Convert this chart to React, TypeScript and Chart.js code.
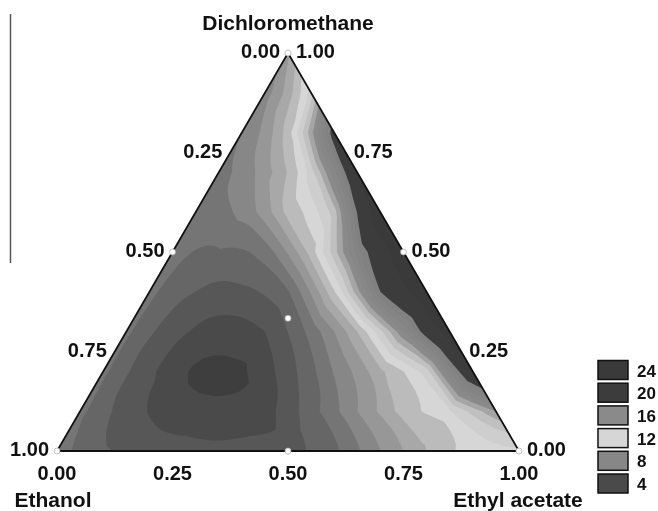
import React, { useEffect, useRef } from "react";
import { Chart, registerables } from "chart.js";
Chart.register(...registerables);

// Response values on a 0.1 lattice.
// Each row: fixed Dichloromethane fraction; entries by Ethyl acetate fraction 0, 0.1, 0.2 ...
const dcm00 = [7.3, 6.1, 5.6, 5.4, 5.4, 5.6, 6.75, 9.0, 11.0, 12.5, 12.8];
const dcm10 = [7.3, 5.5, 4.6, 4.3, 4.6, 6.6, 9.0, 11.5, 12.9, 16.0];
const dcm20 = [7.3, 5.3, 3.85, 3.85, 5.6, 8.1, 10.8, 13.5, 23.0];
const dcm30 = [7.3, 5.5, 4.6, 5.0, 7.4, 11.0, 17.0, 26.0];
const dcm40 = [7.4, 6.0, 5.8, 6.9, 11.9, 20.0, 27.0];
const dcm50 = [7.5, 6.9, 7.4, 11.5, 18.5, 27.0];
const dcm60 = [7.6, 8.3, 11.4, 14.5, 27.0];
const dcm70 = [7.7, 9.6, 13.5, 23.0];
const dcm80 = [8.0, 11.5, 21.0];
const dcm90 = [8.5, 13.5];
const dcm100 = [9.8];

// contour levels and their fill greys
const levels = [3, 4, 5, 6, 7, 8, 9, 10, 11, 12, 13, 14, 15, 16, 17, 18, 19, 20, 24];
const levelColors = [
  "#3e3e3e", "#4a4a4a", "#575757", "#666666", "#757575", "#878787", "#979797",
  "#a8a8a8", "#bbbbbb", "#d6d6d6", "#cecece", "#c0c0c0", "#a5a5a5", "#8a8a8a",
  "#878787", "#848484", "#818181", "#3c3c3c", "#3a3a3a",
];
const baseColor = "#383838";

// legend entries
const legendValues = [24, 20, 16, 12, 8, 4];

// axis ticks
const tickValues = [0, 0.25, 0.5, 0.75, 1];

// design points (Dichloromethane, Ethanol, Ethyl acetate)
const designDcm = [1, 0, 0, 0.5, 0.5, 0, 1 / 3];
const designEth = [0, 1, 0, 0.5, 0, 0.5, 1 / 3];
const designEa = [0, 0, 1, 0, 0.5, 0.5, 1 / 3];

const FONT = '"Liberation Sans", Arial, sans-serif';
const DEG = 5; // degree of the smoothing surface

function basis(a: number, c: number): number[] {
  const out: number[] = [];
  for (let p = 0; p <= DEG; p++) for (let q = 0; p + q <= DEG; q++) out.push(Math.pow(a, p) * Math.pow(c, q));
  return out;
}

// smooth least-squares surface plus linear residual correction (passes through the readings)
function buildSurface(rows: number[][]): (a: number, c: number) => number {
  const n = rows.length - 1;
  const X: number[][] = [];
  const Y: number[] = [];
  rows.forEach((row, i) => row.forEach((v, j) => { X.push(basis(i / n, j / n)); Y.push(v); }));
  const m = X[0].length;
  const A: number[][] = [];
  for (let r = 0; r < m; r++) {
    const line = new Array(m + 1).fill(0);
    for (let k = 0; k < X.length; k++) {
      for (let s = 0; s < m; s++) line[s] += X[k][r] * X[k][s];
      line[m] += X[k][r] * Y[k];
    }
    A.push(line);
  }
  for (let col = 0; col < m; col++) {
    let piv = col;
    for (let r = col + 1; r < m; r++) if (Math.abs(A[r][col]) > Math.abs(A[piv][col])) piv = r;
    [A[col], A[piv]] = [A[piv], A[col]];
    for (let r = 0; r < m; r++) {
      if (r === col) continue;
      const f = A[r][col] / A[col][col];
      for (let s = col; s <= m; s++) A[r][s] -= f * A[col][s];
    }
  }
  const coef = A.map((line, r) => line[m] / line[r]);
  const fit = (a: number, c: number) => basis(a, c).reduce((s, b, k) => s + b * coef[k], 0);
  const res = rows.map((row, i) => row.map((v, j) => v - fit(i / n, j / n)));
  const R = (i: number, j: number) => (i >= 0 && j >= 0 && i + j <= n ? res[i][j] : 0);
  return (a: number, c: number) => {
    const u = a * n;
    const w = c * n;
    const i0 = Math.floor(u + 1e-9);
    let j0 = Math.floor(w + 1e-9);
    if (i0 + j0 > n) j0 = n - i0;
    const fa = u - i0;
    const fc = w - j0;
    let r: number;
    if (fa + fc <= 1 + 1e-9) r = R(i0, j0) * (1 - fa - fc) + R(i0, j0 + 1) * fc + R(i0 + 1, j0) * fa;
    else r = R(i0 + 1, j0 + 1) * (fa + fc - 1) + R(i0, j0 + 1) * (1 - fa) + R(i0 + 1, j0) * (1 - fc);
    return fit(a, c) + r;
  };
}

type V3 = [number, number, number];

function clipAbove(pts: V3[], L: number): [number, number][] {
  const out: [number, number][] = [];
  for (let k = 0; k < pts.length; k++) {
    const A = pts[k];
    const B = pts[(k + 1) % pts.length];
    const ina = A[2] >= L;
    const inb = B[2] >= L;
    if (ina) out.push([A[0], A[1]]);
    if (ina !== inb) {
      const t = (L - A[2]) / (B[2] - A[2]);
      out.push([A[0] + t * (B[0] - A[0]), A[1] + t * (B[1] - A[1])]);
    }
  }
  return out;
}

function colorFor(v: number): string {
  let c = baseColor;
  for (let k = 0; k < levels.length; k++) if (v >= levels[k]) c = levelColors[k];
  return c;
}

const ternaryPlugin = {
  id: "ternary",
  beforeDatasetsDraw(chart: any) {
    const ctx = chart.ctx as CanvasRenderingContext2D;
    const xs = chart.scales.x;
    const ys = chart.scales.y;
    const f = buildSurface([dcm00, dcm10, dcm20, dcm30, dcm40, dcm50, dcm60, dcm70, dcm80, dcm90, dcm100]);
    const N = 60;
    const P = (i: number, j: number): V3 => [
      xs.getPixelForValue(j / N + i / (2 * N)),
      ys.getPixelForValue(i / N),
      f(i / N, j / N),
    ];
    const tris: V3[][] = [];
    for (let i = 0; i < N; i++) {
      for (let j = 0; i + j < N; j++) {
        tris.push([P(i, j), P(i, j + 1), P(i + 1, j)]);
        if (i + j + 2 <= N) tris.push([P(i, j + 1), P(i + 1, j + 1), P(i + 1, j)]);
      }
    }
    const T = [xs.getPixelForValue(0.5), ys.getPixelForValue(1)];
    const Lp = [xs.getPixelForValue(0), ys.getPixelForValue(0)];
    const Rp = [xs.getPixelForValue(1), ys.getPixelForValue(0)];
    ctx.save();
    ctx.beginPath();
    ctx.moveTo(Lp[0], Lp[1]);
    ctx.lineTo(Rp[0], Rp[1]);
    ctx.lineTo(T[0], T[1]);
    ctx.closePath();
    ctx.fillStyle = baseColor;
    ctx.fill();
    ctx.clip();
    for (let k = 0; k < levels.length; k++) {
      ctx.beginPath();
      let any = false;
      for (const t of tris) {
        const poly = clipAbove(t, levels[k]);
        if (poly.length < 3) continue;
        any = true;
        ctx.moveTo(poly[0][0], poly[0][1]);
        for (let q = 1; q < poly.length; q++) ctx.lineTo(poly[q][0], poly[q][1]);
        ctx.closePath();
      }
      if (any) {
        ctx.fillStyle = levelColors[k];
        ctx.fill("nonzero");
      }
    }
    ctx.restore();
    ctx.save();
    ctx.beginPath();
    ctx.moveTo(Lp[0], Lp[1]);
    ctx.lineTo(Rp[0], Rp[1]);
    ctx.lineTo(T[0], T[1]);
    ctx.closePath();
    ctx.strokeStyle = "#111";
    ctx.lineWidth = 1.8;
    ctx.stroke();
    ctx.restore();
  },
  afterDraw(chart: any) {
    const ctx = chart.ctx as CanvasRenderingContext2D;
    const xs = chart.scales.x;
    const ys = chart.scales.y;
    const fmt = (v: number) => v.toFixed(2);
    ctx.save();
    ctx.fillStyle = "#111";
    ctx.font = `bold 20px ${FONT}`;
    ctx.textBaseline = "alphabetic";
    for (const v of tickValues) {
      const a1 = 1 - v;
      ctx.textAlign = "right";
      ctx.fillText(fmt(v), xs.getPixelForValue(a1 / 2) - 8, ys.getPixelForValue(a1) + 5);
      ctx.textAlign = "left";
      ctx.fillText(fmt(v), xs.getPixelForValue(1 - v / 2) + 8, ys.getPixelForValue(v) + 5);
      ctx.textAlign = "center";
      ctx.fillText(fmt(v), xs.getPixelForValue(v), ys.getPixelForValue(0) + 29);
    }
    ctx.font = `bold 21px ${FONT}`;
    ctx.textAlign = "center";
    ctx.fillText("Dichloromethane", xs.getPixelForValue(0.5), ys.getPixelForValue(1) - 23);
    ctx.fillText("Ethanol", xs.getPixelForValue(0) - 4, ys.getPixelForValue(0) + 56);
    ctx.fillText("Ethyl acetate", xs.getPixelForValue(1) - 1, ys.getPixelForValue(0) + 56);

    ctx.font = `bold 17px ${FONT}`;
    ctx.textAlign = "left";
    legendValues.forEach((v, k) => {
      const top = 360.5 + k * 22.7;
      ctx.fillStyle = colorFor(v);
      ctx.fillRect(598, top, 30, 19);
      ctx.strokeStyle = "#111";
      ctx.lineWidth = 1.5;
      ctx.strokeRect(598, top, 30, 19);
      ctx.fillStyle = "#111";
      ctx.fillText(String(v), 637, top + 16);
    });

    ctx.beginPath();
    ctx.moveTo(10.5, 14);
    ctx.lineTo(10.5, 263);
    ctx.strokeStyle = "#555";
    ctx.lineWidth = 1.5;
    ctx.stroke();
    ctx.restore();
  },
};

export default function App() {
  const ref = useRef<HTMLCanvasElement | null>(null);
  useEffect(() => {
    if (!ref.current) return;
    const pts = designDcm.map((a, k) => ({ x: designEa[k] + a / 2, y: a, eth: designEth[k] }));
    const chart = new Chart(ref.current, {
      type: "scatter",
      data: {
        datasets: [
          {
            data: pts,
            pointRadius: 3,
            pointBackgroundColor: "#ffffff",
            pointBorderColor: "rgba(170,170,170,0.9)",
            pointBorderWidth: 0.8,
            clip: false as any,
          },
        ],
      },
      options: {
        responsive: false,
        animation: false,
        devicePixelRatio: 1,
        events: [],
        layout: { padding: { left: 57, right: 139, top: 53, bottom: 60 } },
        plugins: { legend: { display: false }, tooltip: { enabled: false }, title: { display: false } },
        scales: {
          x: { type: "linear", min: 0, max: 1, display: false },
          y: { type: "linear", min: 0, max: 1, display: false },
        },
      },
      plugins: [ternaryPlugin],
    });
    return () => chart.destroy();
  }, []);
  return (
    <div style={{ position: "absolute", left: 0, top: 0, width: 658, height: 511, background: "#fff" }}>
      <canvas ref={ref} width={658} height={511} style={{ display: "block" }} />
    </div>
  );
}
